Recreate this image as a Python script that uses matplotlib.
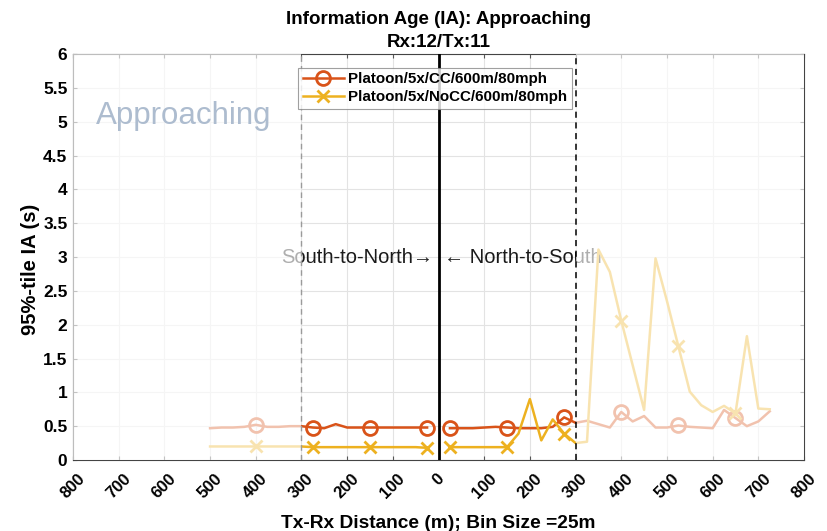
import numpy as np
import matplotlib
matplotlib.use("Agg")
import matplotlib.pyplot as plt

plt.rcParams['font.family'] = ['Liberation Sans', 'DejaVu Sans']

# Bin distances (m) on each side of the crossing point
dist_left = [25, 50, 75, 100, 125, 150, 175, 200, 225, 250, 275, 300,
             325, 350, 375, 400, 425, 450, 475, 500]
dist_right = [25, 50, 75, 100, 125, 150, 175, 200, 225, 250, 275, 300,
              325, 350, 375, 400, 425, 450, 475, 500, 525, 550, 575, 600,
              625, 650, 675, 700, 725]

# South-to-North (plotted on the negative side)
cc_left = [0.48, 0.48, 0.48, 0.48, 0.48, 0.48, 0.48, 0.48, 0.53, 0.47, 0.48, 0.50,
           0.50, 0.49, 0.49, 0.52, 0.49, 0.48, 0.48, 0.47]
nocc_left = [0.18, 0.19, 0.19, 0.19, 0.19, 0.19, 0.19, 0.19, 0.19, 0.19, 0.19, 0.20,
             0.20, 0.20, 0.20, 0.20, 0.20, 0.20, 0.20, 0.20]

# North-to-South (plotted on the positive side)
cc_right = [0.47, 0.47, 0.47, 0.48, 0.49, 0.48, 0.47, 0.47, 0.47, 0.49, 0.63, 0.55,
            0.58, 0.53, 0.48, 0.71, 0.57, 0.65, 0.48, 0.48, 0.51, 0.49, 0.48, 0.47,
            0.74, 0.62, 0.50, 0.57, 0.72]
nocc_right = [0.19, 0.19, 0.19, 0.19, 0.19, 0.19, 0.39, 0.90, 0.29, 0.60, 0.39, 0.25,
              0.27, 3.11, 2.78, 2.06, 1.40, 0.74, 2.98, 2.35, 1.68, 1.01, 0.81, 0.71,
              0.80, 0.69, 1.83, 0.76, 0.75]

labels = ["Platoon/5x/CC/600m/80mph", "Platoon/5x/NoCC/600m/80mph"]
c_cc = "#D95319"
c_nocc = "#EDB120"

xticks = np.arange(-800, 801, 100)
yticks = np.arange(0, 6.01, 0.5)

fig = plt.figure(figsize=(8.27, 5.31), dpi=100)
ax = fig.add_axes([0.0883, 0.1337, 0.8839, 0.7646])

xl = -np.array(dist_left)
xr = np.array(dist_right)

cc_style = dict(color=c_cc, lw=1.8, marker='o', markersize=10, markerfacecolor='none',
                markeredgewidth=2, markevery=5, zorder=3)
nocc_style = dict(color=c_nocc, lw=1.8, marker='x', markersize=8,
                  markeredgewidth=2, markevery=5, zorder=3)

ax.plot(xl, cc_left, label=labels[0], **cc_style)
ax.plot(xl, nocc_left, label=labels[1], **nocc_style)
ax.plot(xr, cc_right, **cc_style)
ax.plot(xr, nocc_right, **nocc_style)

# Region markers
ax.axvline(0, color='black', lw=2, zorder=4)
ax.axvline(-300, color='#9a9a9a', lw=1, ls=(0, (4, 3)), zorder=4)
ax.axvline(300, color='black', lw=1.1, ls=(0, (4, 3)), zorder=4)

ax.text(-12, 3.0, "South-to-North\u2192", ha='right', va='center', fontsize=14.5,
        color='#1a1a1a', zorder=2)
ax.text(12, 3.0, "\u2190 North-to-South", ha='left', va='center', fontsize=14.5,
        color='#1a1a1a', zorder=2)

# Fade everything beyond +/-300 m
ax.axvspan(-800, -300, facecolor='white', alpha=0.65, lw=0, zorder=3.5)
ax.axvspan(300, 800, facecolor='white', alpha=0.65, lw=0, zorder=3.5)

ax.text(-750, 5.08, "Approaching", ha='left', va='center', fontsize=22.5,
        color='#adbccf', zorder=5)

ax.set_xlim(-800, 800)
ax.set_ylim(0, 6)
ax.set_xticks(xticks)
ax.set_xticklabels([str(abs(int(v))) for v in xticks], rotation=45,
                   ha='center', va='top', fontsize=12, fontweight='bold')
ax.set_yticks(yticks)
ax.set_yticklabels([f"{v:g}" for v in yticks], fontsize=12.5, fontweight='bold')
ax.tick_params(direction='in', length=3, top=True, right=True, color='#555555')
ax.tick_params(axis='x', pad=8)
ax.tick_params(axis='y', pad=4)
ax.grid(True, color='#e3e3e3', lw=0.8, zorder=0)
ax.set_axisbelow(True)
for s in ax.spines.values():
    s.set_color('#444444')
    s.set_linewidth(0.8)

ax.set_xlabel("Tx-Rx Distance (m); Bin Size =25m", fontsize=13.8, fontweight='bold',
              labelpad=10)
ax.set_ylabel("95%-tile IA (s)", fontsize=14.5, fontweight='bold')
ax.yaxis.set_label_coords(-0.045, 0.47)
ax.set_title("Information Age (IA): Approaching\nRx:12/Tx:11", fontsize=13.5,
             fontweight='bold', pad=5, linespacing=1.5)

leg = ax.legend(loc='upper left', bbox_to_anchor=(0.308, 0.966),
                prop={'weight': 'bold', 'size': 10.9}, frameon=True, fancybox=False,
                handlelength=2.7, borderpad=0.3, labelspacing=0.25,
                handletextpad=0.3, borderaxespad=0)
leg.get_frame().set_edgecolor('#888888')
leg.get_frame().set_linewidth(0.8)
leg.set_zorder(6)

fig.savefig("out.png", dpi=100)
